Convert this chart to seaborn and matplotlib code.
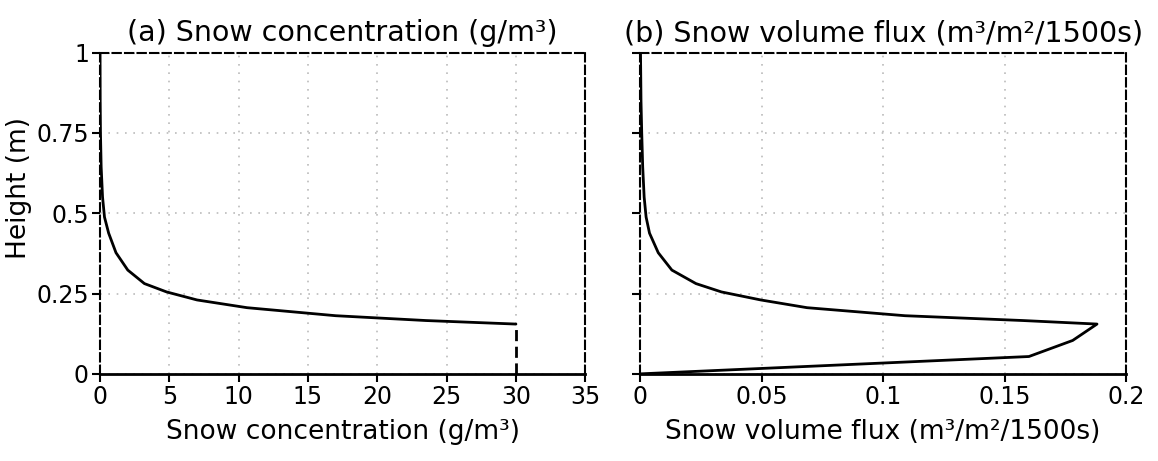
import matplotlib
matplotlib.use("Agg")
import matplotlib.pyplot as plt
import seaborn as sns
import pandas as pd

# ---- data ----
heights_upper = [0.155, 0.166, 0.181, 0.206, 0.23, 0.255, 0.281, 0.323, 0.377,
                 0.438, 0.488, 0.55, 0.644, 0.75, 0.85, 1.0]
conc_upper = [30, 23.5, 17, 10.6, 7, 4.8, 3.2, 2.0, 1.15,
              0.62, 0.32, 0.18, 0.08, 0.03, 0.01, 0.0]
heights_lower = [0.0, 0.155]
conc_lower = [30, 30]

heights_flux = [0.0, 0.054, 0.104, 0.155, 0.166, 0.181, 0.206, 0.23, 0.255, 0.281,
                0.323, 0.377, 0.438, 0.488, 0.55, 0.644, 0.75, 0.85, 1.0]
flux = [0.0, 0.16, 0.178, 0.188, 0.1575, 0.109, 0.0687, 0.0497, 0.0335, 0.023,
        0.0131, 0.0075, 0.0039, 0.0025, 0.0017, 0.0011, 0.0007, 0.0004, 0.0002]

conc_ticks = [0, 5, 10, 15, 20, 25, 30, 35]
flux_ticks = [0, 0.05, 0.1, 0.15, 0.2]
flux_ticklabels = ["0", "0.05", "0.1", "0.15", "0.2"]
height_ticks = [0, 0.25, 0.5, 0.75, 1]
height_ticklabels = ["0", "0.25", "0.5", "0.75", "1"]

titles = ["(a) Snow concentration (g/m³)", "(b) Snow volume flux (m³/m²/1500s)"]
xlabels = ["Snow concentration (g/m³)", "Snow volume flux (m³/m²/1500s)"]
ylabel = "Height (m)"

sns.set_style("white")
plt.rcParams['font.family'] = ['DejaVu Sans']
plt.rcParams['text.color'] = 'black'
plt.rcParams['axes.labelcolor'] = 'black'
plt.rcParams['xtick.color'] = 'black'
plt.rcParams['ytick.color'] = 'black'

fig = plt.figure(figsize=(11.58, 4.61), dpi=100)
ax1 = fig.add_axes([0.0864, 0.189, 0.419, 0.697])
ax2 = fig.add_axes([0.5527, 0.189, 0.4198, 0.697])

df_cu = pd.DataFrame({"x": conc_upper, "y": heights_upper})
df_cl = pd.DataFrame({"x": conc_lower, "y": heights_lower})
df_f = pd.DataFrame({"x": flux, "y": heights_flux})

sns.lineplot(data=df_cu, x="x", y="y", sort=False, estimator=None, color="black", lw=2, ax=ax1)
sns.lineplot(data=df_cl, x="x", y="y", sort=False, estimator=None, color="black", lw=2,
             ax=ax1, linestyle=(0, (4, 2)))
sns.lineplot(data=df_f, x="x", y="y", sort=False, estimator=None, color="black", lw=2, ax=ax2)

fs = 17
for i, ax in enumerate([ax1, ax2]):
    ax.set_ylim(0, 1)
    ax.set_yticks(height_ticks)
    ax.grid(True, color="#bbbbbb", linestyle=(0, (1, 4)), lw=1.2)
    for s in ["top", "left", "right"]:
        ax.spines[s].set_linestyle((0, (4, 2)))
        ax.spines[s].set_color("black")
        ax.spines[s].set_linewidth(1.5)
    ax.spines["bottom"].set_color("black")
    ax.spines["bottom"].set_linewidth(2)
    ax.tick_params(axis="both", direction="out", length=6, width=1.5, color="black",
                   labelsize=fs, bottom=True, left=True, pad=2)
    ax.set_title(titles[i], fontsize=20.5, pad=8)
    ax.set_xlabel(xlabels[i], fontsize=19, labelpad=7)

ax1.set_xlim(0, 35)
ax1.set_xticks(conc_ticks)
ax1.set_yticklabels(height_ticklabels)
ax1.set_ylabel(ylabel, fontsize=19)
ax1.yaxis.set_label_coords(-0.14, 0.58)

ax2.set_xlim(0, 0.2)
ax2.set_xticks(flux_ticks)
ax2.set_xticklabels(flux_ticklabels)
ax2.set_yticklabels([])
ax2.set_ylabel("")

fig.savefig("out.png", dpi=100)
